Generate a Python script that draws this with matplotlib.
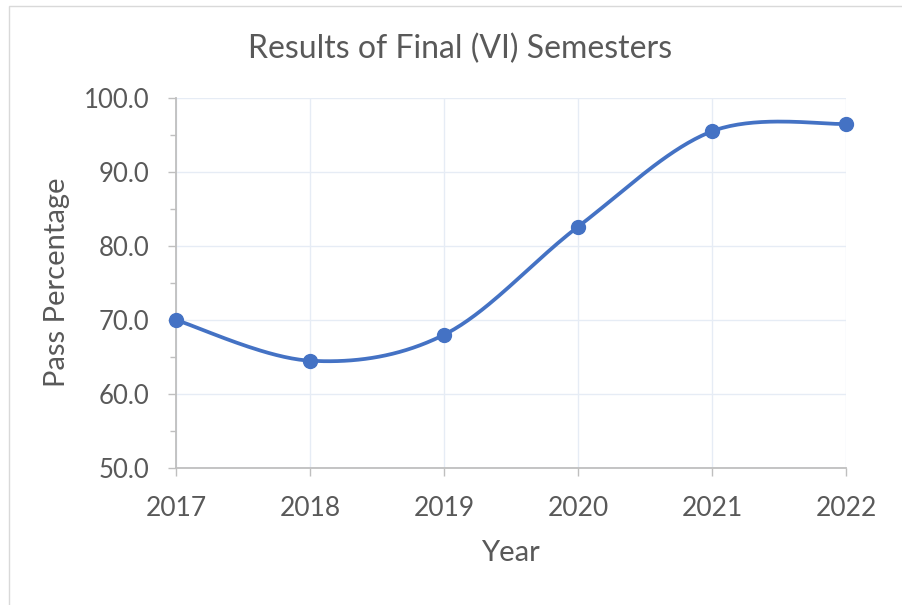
import numpy as np
import matplotlib.pyplot as plt
from matplotlib.patches import Rectangle
from matplotlib.ticker import MultipleLocator, FormatStrFormatter

years = [2017, 2018, 2019, 2020, 2021, 2022]
pass_pct = [70.0, 64.5, 68.0, 82.6, 95.5, 96.5]

blue = "#4472C4"
text_col = "#595959"
plt.rcParams['font.family'] = ['Lato', 'DejaVu Sans']


def smooth(xs, ys, n=40):
    # Catmull-Rom style bezier, like Excel's smoothed line
    xs = np.asarray(xs, float)
    ys = np.asarray(ys, float)
    px = np.concatenate([[xs[0]], xs, [xs[-1]]])
    py = np.concatenate([[ys[0]], ys, [ys[-1]]])
    ox, oy = [], []
    t = np.linspace(0, 1, n)
    for i in range(1, len(px) - 2):
        p0 = np.array([px[i], py[i]])
        p3 = np.array([px[i + 1], py[i + 1]])
        c1 = p0 + (p3 - np.array([px[i - 1], py[i - 1]])) / 6
        c2 = p3 - (np.array([px[i + 2], py[i + 2]]) - p0) / 6
        pts = ((1 - t) ** 3)[:, None] * p0 + (3 * (1 - t) ** 2 * t)[:, None] * c1 \
            + (3 * (1 - t) * t ** 2)[:, None] * c2 + (t ** 3)[:, None] * p3
        ox.extend(pts[:, 0])
        oy.extend(pts[:, 1])
    return np.array(ox), np.array(oy)


fig = plt.figure(figsize=(9.02, 6.05), dpi=100)
fig.patches.append(Rectangle((9 / 902, -1), 2, 2 - 6 / 605, transform=fig.transFigure,
                             fill=False, edgecolor="#D9D9D9", lw=1))
ax = fig.add_axes([176 / 902, 1 - 468 / 605, 670 / 902, 370 / 605])

sx, sy = smooth(years, pass_pct)
ax.plot(sx, sy, color=blue, lw=2.7, solid_capstyle="round", zorder=3, clip_on=False)
ax.plot(years, pass_pct, "o", color=blue, markersize=10, zorder=4, clip_on=False)

ax.set_xlim(2017, 2022)
ax.set_ylim(50, 100)
ax.set_xticks(years)
ax.yaxis.set_major_locator(MultipleLocator(10))
ax.yaxis.set_minor_locator(MultipleLocator(5))
ax.yaxis.set_major_formatter(FormatStrFormatter("%.1f"))

ax.grid(True, which="major", color="#E6ECF5", lw=1)
for s in ["top", "right"]:
    ax.spines[s].set_visible(False)
for s in ["left", "bottom"]:
    ax.spines[s].set_color("#BFBFBF")
    ax.spines[s].set_linewidth(1.3)

ax.tick_params(axis="both", which="major", length=6, width=1, color="#BFBFBF",
               labelcolor=text_col)
ax.tick_params(axis="x", labelsize=19, pad=14)
ax.tick_params(axis="y", labelsize=18.5, pad=13)
ax.tick_params(axis="y", which="minor", length=4, width=1, color="#BFBFBF")

fig.text(460 / 902, 1 - 49 / 605, "Results of Final (VI) Semesters", fontsize=23,
         color=text_col, ha="center", va="center")
fig.text(510 / 902, 1 - 553 / 605, "Year", fontsize=21, color=text_col,
         ha="center", va="center")
fig.text(57 / 902, 1 - 282 / 605, "Pass Percentage", fontsize=21, color=text_col,
         ha="center", va="center", rotation=90)

plt.savefig("out.png", dpi=100)
